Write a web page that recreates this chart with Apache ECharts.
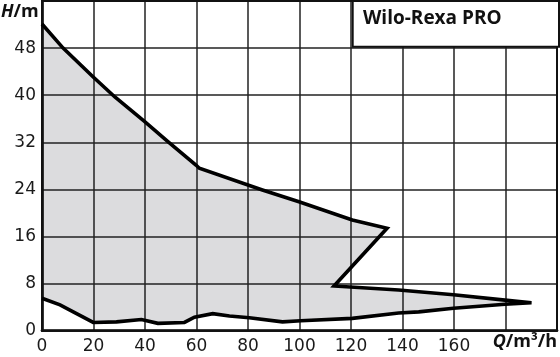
<!DOCTYPE html>
<html><head><meta charset="utf-8">
<script src="https://cdn.jsdelivr.net/npm/echarts@6/dist/echarts.min.js"></script>
<style>html,body{margin:0;padding:0;background:#fff}#c{width:560px;height:357px}</style>
</head><body><div id="c"></div>
<script>
// Operating envelope outline (Q in m³/h, H in m), in drawing order
const curveQ = [0, 8.2, 19.9, 28.3, 39.9, 48.9, 59.9, 61.1, 85.6, 99.8, 120.5, 134.0, 113.4, 138.5, 159.8, 179.8, 190.1, 179.8, 159.8, 146.3, 138.5, 120.5, 100.5, 93.4, 80.5, 72.8, 66.3, 59.2, 55.3, 45.0, 38.6, 28.9, 19.9, 7.0, 0];
const curveH = [52.1, 48.0, 43.1, 39.7, 35.5, 32.1, 28.1, 27.6, 23.9, 21.9, 18.8, 17.4, 7.6, 6.9, 6.1, 5.2, 4.75, 4.5, 3.8, 3.2, 3.0, 2.1, 1.7, 1.5, 2.2, 2.5, 2.9, 2.3, 1.4, 1.25, 1.9, 1.5, 1.4, 4.4, 5.5];
const xTickLabels = [0, 20, 40, 60, 80, 100, 120, 140, 160];
const yTickLabels = [0, 8, 16, 24, 32, 40, 48];
const titleText = 'Wilo-Rexa PRO';

const chart = echarts.init(document.getElementById('c'), null, {renderer: 'canvas'});
const points = curveQ.map((q, i) => [q, curveH[i]]);
const labelFont = {fontFamily: 'DejaVu Sans', fontSize: 17, color: '#1a1a1a'};

chart.setOption({
  animation: false,
  grid: {left: 42, right: 1.2, top: 1, bottom: 26.3, show: true, borderColor: '#111', borderWidth: 2, z: 4},
  xAxis: {
    type: 'value', min: 0, max: 200, interval: 20, z: 3,
    axisLine: {show: true, lineStyle: {color: '#111', width: 2.7}},
    axisTick: {show: false},
    splitLine: {show: true, lineStyle: {color: '#222', width: 1.5}},
    axisLabel: Object.assign({margin: 7, formatter: v => xTickLabels.includes(v) ? String(v) : ''}, labelFont)
  },
  yAxis: {
    type: 'value', min: 0, max: 56, interval: 8, z: 3,
    axisLine: {show: true, lineStyle: {color: '#111', width: 2.7}},
    axisTick: {show: false},
    splitLine: {show: true, lineStyle: {color: '#222', width: 1.5}},
    axisLabel: Object.assign({margin: 6, formatter: v => yTickLabels.includes(v) ? String(v) : ''}, labelFont)
  },
  series: [
    {
      type: 'custom', z: 2, silent: true,
      data: points,
      renderItem: function (params, api) {
        if (params.dataIndex !== 0) return null;
        const pts = points.map(p => api.coord(p));
        return {type: 'polygon', shape: {points: pts}, style: {fill: '#dcdcde', stroke: null}};
      }
    },
    {
      type: 'line', z: 5, data: points, showSymbol: false, smooth: false,
      lineStyle: {color: '#000', width: 3.6, join: 'miter'}
    }
  ],
  graphic: [
    {type: 'rect', z: 10, shape: {x: 352.7, y: 1, width: 206.3, height: 45.7},
     style: {fill: '#fff', stroke: '#111', lineWidth: 2}},
    {type: 'text', z: 11, left: 363, top: 9,
     style: {text: titleText, fontFamily: 'Open Sans', fontWeight: 'bold', fontSize: 19, fill: '#111'}},
    {type: 'text', z: 11, left: 1, top: 3,
     style: {text: '{i|H}{b|/m}', rich: {
       i: {fontFamily: 'Open Sans', fontWeight: 'bold', fontStyle: 'italic', fontSize: 18, fill: '#111'},
       b: {fontFamily: 'Open Sans', fontWeight: 'bold', fontSize: 18, fill: '#111'}}}},
    {type: 'text', z: 11, right: 3, top: 333,
     style: {text: '{i|Q}{b|/m³/h}', rich: {
       i: {fontFamily: 'Open Sans', fontWeight: 'bold', fontStyle: 'italic', fontSize: 18, fill: '#111'},
       b: {fontFamily: 'Open Sans', fontWeight: 'bold', fontSize: 18, fill: '#111'}}}}
  ]
});
</script>
</body></html>
